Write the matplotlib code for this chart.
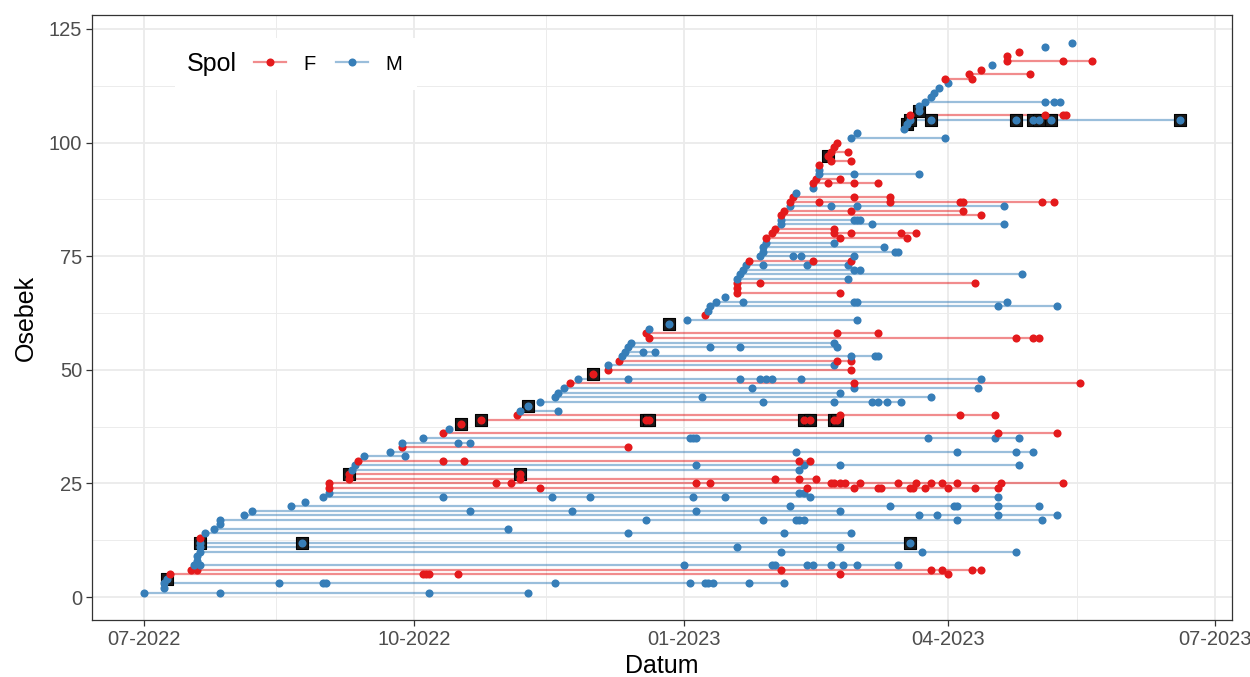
import matplotlib
matplotlib.use("Agg")
import matplotlib.pyplot as plt
import matplotlib.dates as mdates
from matplotlib.lines import Line2D
from matplotlib.patches import Rectangle
from matplotlib.ticker import MultipleLocator
import pandas as pd

plt.rcParams["font.family"] = ["Liberation Sans", "DejaVu Sans"]

# dnevi od zacetka spremljanja (2022-07-01)
zacetek = pd.Timestamp("2022-07-01")

# spol po osebkih 1..122 (po deset)
spol = list("MMMMFFMMMM" "MMFMMMMMMM" "MMMFFFFMMF" "MMFMMFMFFF" "MMMMMMFMFF"
            "MFMMMMFFMM" "MFMMMMFFFM" "MMMFMMMMFF" "FMMFFMFFMM" "FFMMFFFFFF"
            "MMMMMFMMMM" "MMMFFFMFFF" "MM")

ulovi = [
    [0, 26, 97, 131], [7], [7, 46, 61, 62, 140, 186, 191, 192, 194, 206, 218], [8],
    [9, 95, 96, 97, 107, 237, 274], [16, 18, 217, 268, 272, 282, 285],
    [17, 19, 184, 214, 215, 226, 228, 234, 238, 243, 257], [18], [18],
    [19, 217, 265, 297], [19, 202, 237], [19, 54, 261], [19], [21, 165, 218, 241],
    [24, 124], [26], [26, 171, 211, 222, 223, 225, 277, 306], [34, 264, 270, 291, 311],
    [37, 111, 146, 188, 237], [50, 220, 254, 276, 277, 291, 305], [55],
    [61, 102, 139, 152, 187, 198, 227, 291], [63, 223, 225],
    [63, 135, 226, 242, 250, 251, 261, 262, 266, 274, 283, 291],
    [63, 120, 125, 188, 193, 234, 235, 237, 239, 244, 257, 263, 268, 272, 277, 292, 313],
    [70, 128, 215, 223, 229], [70, 128], [71, 223], [72, 188, 225, 237, 298],
    [73, 102, 109, 223, 227], [75, 89], [84, 222, 277, 297, 303], [88, 165],
    [88, 107, 111], [95, 186, 187, 188, 267, 290, 298], [102, 291, 311], [104], [108],
    [115, 171, 172, 225, 227, 235, 236], [127, 237, 278, 290], [128, 141], [131],
    [135, 211, 235, 248, 250, 253, 258], [140, 190, 268], [141, 237], [143, 207, 242, 284],
    [145, 242, 319], [148, 165, 203, 210, 212, 214, 224, 285], [153], [158, 241],
    [158, 235], [162, 236, 241], [163, 241, 249, 250], [164, 170, 174], [165, 193, 203, 236],
    [166, 235], [172, 297, 303, 305], [171, 236, 250], [172], [179], [185, 243], [191],
    [192], [193, 291, 311], [195, 204, 242, 243, 294], [198], [202, 237], [202],
    [202, 210, 283], [202, 240], [203, 299], [204, 242, 244], [205, 211, 226, 240],
    [206, 228, 241], [210, 221, 224, 242], [211, 256, 257], [211, 252], [212, 235],
    [212, 237, 260], [214, 235, 241, 258, 263], [215, 235], [217, 248, 293],
    [217, 242, 243, 244], [217, 285], [218, 241, 279], [220, 234, 243, 293],
    [220, 230, 254, 278, 279, 306, 310], [221, 242, 254], [222], [228], [228, 233, 242, 250],
    [229, 237], [230, 242, 264], [230], [230], [234, 241], [233], [234, 240], [235], [236],
    [241, 273], [243], [259], [260], [261, 268, 297, 303, 305, 309, 353],
    [261, 307, 313, 314], [264], [264], [266, 307, 310, 312], [268], [269], [271], [274],
    [273, 282], [281, 302], [285], [289], [294, 313, 323], [294], [298], [307], [316],
]

# osebki, oznaceni s crnim kvadratom
oznaceni = [4, 12, 27, 38, 39, 42, 49, 60, 97, 104, 105, 107]

barve = {"F": "#E41A1C", "M": "#377EB8"}

fig = plt.figure(figsize=(12.5, 6.77), dpi=100)
ax = fig.add_axes([92 / 1250, 1 - 620 / 677, 1140 / 1250, 605 / 677])

osebki = list(range(1, len(ulovi) + 1))
datumi = [mdates.date2num(zacetek + pd.to_timedelta(u, unit="D")) for u in ulovi]

for o, s, d in zip(osebki, spol, datumi):
    if len(d) > 1:
        ax.plot([d.min(), d.max()], [o, o], color=barve[s], alpha=0.5, lw=1.6,
                solid_capstyle="butt", zorder=2)
for o, s, d in zip(osebki, spol, datumi):
    if o in oznaceni:
        ax.scatter(d, [o] * len(d), marker="s", s=85, color="#1a1a1a",
                   edgecolors="black", linewidths=0.8, zorder=3)
for o, s, d in zip(osebki, spol, datumi):
    ax.scatter(d, [o] * len(d), s=34, color=barve[s], linewidths=0, zorder=4)

# meje kot v ggplot (5 % razsiritev)
vsi_dnevi = [x for u in ulovi for x in u]
dmin, dmax = min(vsi_dnevi), max(vsi_dnevi)
pad = 0.05 * (dmax - dmin)
ax.set_xlim(mdates.date2num(zacetek + pd.Timedelta(days=dmin - pad)),
            mdates.date2num(zacetek + pd.Timedelta(days=dmax + pad)))
n = len(ulovi)
ax.set_ylim(1 - 0.05 * (n - 1), n + 0.05 * (n - 1))

ax.xaxis.set_major_locator(mdates.MonthLocator(bymonth=[1, 4, 7, 10]))
ax.xaxis.set_major_formatter(mdates.DateFormatter("%m-%Y"))
ax.xaxis.set_minor_locator(mdates.MonthLocator(bymonth=[2, 5, 8, 11], bymonthday=15))
ax.yaxis.set_major_locator(MultipleLocator(25))
ax.yaxis.set_minor_locator(MultipleLocator(12.5))

ax.set_axisbelow(True)
ax.grid(which="major", color="#EBEBEB", lw=1.3)
ax.grid(which="minor", color="#EBEBEB", lw=0.65)
for sp in ax.spines.values():
    sp.set_color("#333333")
    sp.set_linewidth(0.9)
ax.tick_params(which="major", length=4, width=0.9, color="#333333",
               labelcolor="#4D4D4D", labelsize=14.5, pad=3)
ax.tick_params(which="minor", length=0)

ax.set_xlabel("Datum", fontsize=18, labelpad=4)
ax.set_ylabel("Osebek", fontsize=18, labelpad=8)

# legenda
fig.add_artist(Rectangle((175 / 1250, 1 - 90 / 677), 242 / 1250, 52 / 677,
                         transform=fig.transFigure, facecolor="white",
                         edgecolor="none", zorder=5))
fig.text(187 / 1250, 1 - 64 / 677, "Spol", fontsize=18, va="center", ha="left", zorder=6)
rocke = []
for k in ["F", "M"]:
    rocke.append(Line2D([], [], color=matplotlib.colors.to_rgba(barve[k], 0.5), lw=1.6,
                        marker="o", markersize=5.8, markerfacecolor=barve[k],
                        markeredgewidth=0))
leg = fig.legend(rocke, ["F", "M"], loc="center left",
                 bbox_to_anchor=(254 / 1250, 1 - 64 / 677), ncol=2, frameon=False,
                 fontsize=14.5, handlelength=1.6, handletextpad=0.85,
                 columnspacing=1.0, borderpad=0, borderaxespad=0)
leg.set_zorder(6)

fig.savefig("out.png", dpi=100)
